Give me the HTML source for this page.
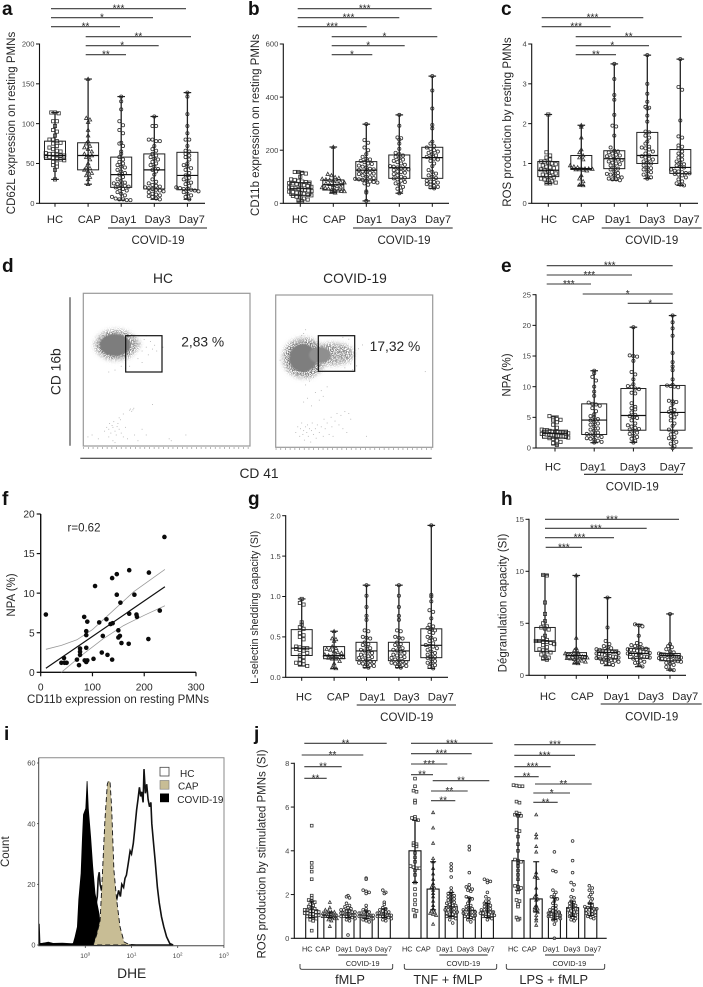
<!DOCTYPE html>
<html lang="en">
<head>
<meta charset="utf-8">
<title>PMN activation figure</title>
<style>
html,body{margin:0;padding:0;background:#fff;}
svg{display:block;filter:blur(0.35px);}
text{font-family:"Liberation Sans",Arial,sans-serif;fill:#262626;}
.letter{font-size:19px;font-weight:bold;fill:#111;}
.title{font-size:11.5px;text-anchor:middle;}
.covid{font-size:11.5px;text-anchor:middle;}
.big{font-size:13.8px;text-anchor:middle;}
.small{font-size:7.3px;text-anchor:middle;}
.leg{font-size:10px;}
.rule{stroke:#222;stroke-width:1.1;}
</style>
</head>
<body>
<svg id="figure" xmlns="http://www.w3.org/2000/svg" width="703" height="987" viewBox="0 0 703 987">
<defs>
<filter id="stipple" x="-40%" y="-40%" width="180%" height="180%">
<feGaussianBlur in="SourceGraphic" stdDeviation="2.4" result="b"/>
<feTurbulence type="fractalNoise" baseFrequency="0.95" numOctaves="1" seed="4" result="n"/>
<feColorMatrix in="n" type="matrix" values="0 0 0 0 0  0 0 0 0 0  0 0 0 0 0  7 0 0 0 -2.9" result="m"/>
<feComposite in="b" in2="m" operator="in"/>
</filter>
<filter id="softer" x="-40%" y="-40%" width="180%" height="180%"><feGaussianBlur stdDeviation="0.9"/></filter>
</defs>
<rect width="703" height="987" fill="#fff"/>

<g id="panel-a">
<text class="letter" x="2" y="15">a</text>
<text class="title" transform="translate(15 123) rotate(-90)">CD62L expression on resting PMNs</text>
<line class="rule" x1="108" x2="207" y1="228" y2="228"/>
<text class="covid" x="158" y="244">COVID-19</text>
</g>

<g id="panel-b">
<text class="letter" x="248" y="15">b</text>
<text class="title" transform="translate(259 125) rotate(-90)">CD11b expression on resting PMNs</text>
<line class="rule" x1="353" x2="452.7" y1="228" y2="228"/>
<text class="covid" x="404" y="244">COVID-19</text>
</g>

<g id="panel-c">
<text class="letter" x="501" y="15">c</text>
<text class="title" transform="translate(511 122) rotate(-90)">ROS production by resting PMNs</text>
<line class="rule" x1="601.7" x2="701.7" y1="228" y2="228"/>
<text class="covid" x="651.7" y="244">COVID-19</text>
</g>

<g id="panel-d">
<text class="letter" x="2" y="272">d</text>
<text class="big" x="163" y="283">HC</text>
<text class="big" x="355" y="283">COVID-19</text>
<text class="big" transform="translate(60.5 371.7) rotate(-90)">CD 16b</text>
<text class="big" x="259" y="478">CD 41</text>
<line x1="70" x2="70" y1="297.3" y2="445.7" stroke="#777" stroke-width="1.6"/>
<line x1="80.3" x2="431.7" y1="458.3" y2="458.3" stroke="#222" stroke-width="1"/>
<g>
<ellipse cx="116" cy="345" rx="21" ry="15" fill="#777" filter="url(#stipple)"/>
<ellipse cx="131" cy="344" rx="9" ry="6" fill="#999" filter="url(#stipple)"/>
<ellipse cx="115" cy="345" rx="15.5" ry="11" fill="#7d7d7d" filter="url(#softer)"/>
<g id="flow-dots-1"></g>
<rect x="83.3" y="293.3" width="166.7" height="152.7" fill="none" stroke="#999" stroke-width="1.2"/>
<rect x="125.7" y="335.7" width="36.3" height="36.3" fill="none" stroke="#111" stroke-width="1.2"/>
<text class="big" x="202.7" y="346.5">2,83 %</text>
<line x1="83.3" x2="250" y1="448" y2="448" stroke="#777" stroke-width="1.4" stroke-dasharray="0.7 4"/>
</g>
<g>
<ellipse cx="304" cy="358" rx="21" ry="20" fill="#777" filter="url(#stipple)"/>
<ellipse cx="333" cy="354" rx="21" ry="11" fill="#888" filter="url(#stipple)"/>
<ellipse cx="303" cy="358" rx="14" ry="14" fill="#7e7e7e" filter="url(#softer)"/>
<ellipse cx="320" cy="355" rx="11" ry="8" fill="#8f8f8f" filter="url(#softer)"/>
<g id="flow-dots-2"></g>
<rect x="275.7" y="295" width="157" height="152.3" fill="none" stroke="#999" stroke-width="1.2"/>
<rect x="318.3" y="335.7" width="36.4" height="35.6" fill="none" stroke="#111" stroke-width="1.2"/>
<text class="big" x="395" y="351">17,32 %</text>
<line x1="275.7" x2="432.7" y1="449" y2="449" stroke="#777" stroke-width="1.4" stroke-dasharray="0.7 4"/>
</g>
</g>

<g id="panel-e">
<text class="letter" x="501" y="272">e</text>
<text class="title" transform="translate(510.5 375) rotate(-90)">NPA (%)</text>
<line class="rule" x1="584" x2="683" y1="474.3" y2="474.3"/>
<text class="covid" x="632.3" y="490.7">COVID-19</text>
</g>

<g id="panel-f">
<text class="letter" x="2" y="505">f</text>
<text class="title" transform="translate(15 595) rotate(-90)">NPA (%)</text>
<text class="title" x="118" y="703">CD11b expression on resting PMNs</text>
<text class="title" x="84" y="531.7">r=0.62</text>
</g>

<g id="panel-g">
<text class="letter" x="248" y="505">g</text>
<text class="title" style="font-size:10.6px" transform="translate(258 607.3) rotate(-90)">L-selectin shedding capacity (SI)</text>
<line class="rule" x1="356.7" x2="456" y1="705" y2="705"/>
<text class="covid" x="406.7" y="721">COVID-19</text>
</g>

<g id="panel-h">
<text class="letter" x="501" y="505">h</text>
<text class="title" transform="translate(506.7 603) rotate(-90)">Dégranulation capacity (SI)</text>
<line class="rule" x1="600.7" x2="701.7" y1="704" y2="704"/>
<text class="covid" x="651.7" y="720.7">COVID-19</text>
</g>

<g id="panel-i">
<text class="letter" x="4" y="740">i</text>
<text class="title" transform="translate(9 851.7) rotate(-90)">Count</text>
<text class="big" x="131.7" y="978">DHE</text>
<rect x="160" y="767.3" width="9" height="8.7" fill="#fff" stroke="#444" stroke-width="0.8"/>
<text class="leg" x="180" y="777">HC</text>
<rect x="160" y="780.5" width="9" height="8.7" fill="#c8bd95" stroke="#777" stroke-width="0.6"/>
<text class="leg" x="178" y="789.6">CAP</text>
<rect x="160" y="793.5" width="9" height="8.7" fill="#000"/>
<text class="leg" x="177.3" y="803">COVID-19</text>
</g>

<g id="panel-j">
<text class="letter" x="254" y="740">j</text>
<text class="title" transform="translate(265.7 854) rotate(-90)">ROS production by stimulated PMNs (SI)</text>
<line class="rule" x1="338.3" x2="387.3" y1="955" y2="955"/>
<line class="rule" x1="439.3" x2="487.7" y1="955" y2="955"/>
<line class="rule" x1="545" x2="594" y1="955" y2="955"/>
<text class="small" x="362.7" y="965.8">COVID-19</text>
<text class="small" x="463.3" y="965.8">COVID-19</text>
<text class="small" x="569.3" y="965.8">COVID-19</text>
<path d="M300 964v3.5q0 1.8 2 1.8H390.7q2 0 2-1.8V964" fill="none" stroke="#333" stroke-width="0.9"/>
<path d="M404.3 964v3.5q0 1.8 2 1.8H494.7q2 0 2-1.8V964" fill="none" stroke="#333" stroke-width="0.9"/>
<path d="M506.3 964v3.5q0 1.8 2 1.8H602.7q2 0 2-1.8V964" fill="none" stroke="#333" stroke-width="0.9"/>
<text class="title" style="font-size:12.8px" x="350" y="984">fMLP</text>
<text class="title" style="font-size:12.8px" x="448" y="984">TNF + fMLP</text>
<text class="title" style="font-size:12.8px" x="553.7" y="984">LPS + fMLP</text>
</g>
</svg>

<script>
/* ---------- category labels ---------- */
const catsFive = ['HC', 'CAP', 'Day1', 'Day3', 'Day7'];
const catsFour = ['HC', 'Day1', 'Day3', 'Day7'];

/* ---------- panel a ---------- */
const aTicks = [0, 50, 100, 150, 200];
const aBoxes = [[30,55,60,78,114],[24,42,60,76,156],[4,20,36,58,134],[5,18,42,62,109],[5,17,35,64,139]];
const aHC = [114,114,113,103,103,97,92,90,85,80,80,78,76,75,72,70,68,66,65,63,62,62,61,60,60,59,58,57,56,55,54,52,50,48,46,42,30];
const aCAP = [156,107,105,102,92,85,78,75,72,70,68,65,62,60,60,58,55,50,45,44,42,40,38,35,33,30,24];
const aDay1 = [134,128,118,103,98,92,88,76,75,72,65,62,58,55,52,50,48,46,45,42,40,38,36,33,30,28,26,25,24,23,22,21,20,19,18,16,14,12,10,8,6,5,5,4,4];
const aDay3 = [109,97,97,80,80,78,78,72,68,66,62,60,58,56,55,52,50,48,46,43,42,40,36,30,27,25,23,22,21,20,19,18,17,16,15,14,12,11,10,9,8,6,5];
const aDay7 = [139,134,112,97,88,80,80,72,66,65,62,60,58,55,50,48,46,44,42,38,35,32,30,28,26,24,22,20,19,18,18,17,16,15,14,12,10,8,5];

/* ---------- panel b ---------- */
const bTicks = [0, 200, 400, 600];
const bBoxes = [[8,30,55,78,118],[40,50,70,88,212],[9,88,125,157,298],[38,94,134,182,333],[56,94,172,211,479]];
const bHC = [118,118,115,112,100,90,88,85,82,80,78,76,75,72,70,68,65,62,60,58,56,54,52,50,48,46,44,42,40,38,36,32,30,28,25,22,18,14,10,8];
const bCAP = [212,110,105,98,95,92,90,88,85,82,80,78,75,72,68,65,62,60,58,55,52,50,48,46,45,42,40];
const bDay1 = [298,238,228,210,200,185,175,168,165,160,155,150,148,142,138,135,130,128,125,120,118,115,112,110,105,100,98,95,92,90,88,85,82,80,78,75,70,45,40,9];
const bDay3 = [333,292,248,245,240,225,205,190,185,180,175,170,165,160,155,150,145,140,138,135,132,130,128,125,120,118,115,110,105,100,96,94,90,85,80,75,70,62,55,48,38];
const bDay7 = [479,425,357,295,282,232,225,215,210,205,200,195,190,185,180,175,172,168,165,160,150,140,125,118,112,105,100,95,85,82,80,78,72,70,65,62,60,56];

/* ---------- panel c ---------- */
const cTicks = [0, 1, 2, 3, 4];
const cBoxes = [[0.5,0.67,0.83,1.05,2.23],[0.45,0.85,0.87,1.2,1.96],[0.58,0.87,1.12,1.32,3.5],[0.62,1.0,1.2,1.78,3.72],[0.45,0.75,0.9,1.35,3.62]];
const cHC = [2.23,1.28,1.2,1.15,1.1,1.05,1.05,1.02,1,0.98,0.95,0.92,0.9,0.88,0.85,0.83,0.8,0.78,0.75,0.72,0.7,0.68,0.65,0.62,0.6,0.58,0.55,0.52,0.5,0.5];
const cCAP = [1.96,1.92,1.65,1.35,1.28,1.2,1.15,1.1,0.95,0.92,0.9,0.88,0.87,0.87,0.86,0.85,0.85,0.84,0.82,0.7,0.62,0.55,0.46,0.45];
const cDay1 = [3.5,3.12,2.72,2.6,2.22,1.95,1.93,1.7,1.4,1.32,1.3,1.28,1.25,1.22,1.2,1.18,1.15,1.12,1.1,1.08,1.05,1.02,1,0.98,0.95,0.9,0.87,0.85,0.8,0.76,0.74,0.72,0.7,0.68,0.65,0.62,0.6,0.6,0.58];
const cDay3 = [3.72,3,2.75,2.55,2.42,2.4,2.38,2.2,2.05,1.8,1.78,1.7,1.65,1.55,1.5,1.42,1.4,1.38,1.35,1.3,1.25,1.2,1.18,1.15,1.12,1.1,1.05,1.02,1,0.95,0.9,0.88,0.85,0.8,0.78,0.72,0.68,0.65,0.62];
const cDay7 = [3.62,2.92,2.85,2.08,1.68,1.65,1.45,1.42,1.38,1.3,1.25,1.2,1.15,1.1,1.05,1.02,0.98,0.95,0.92,0.9,0.85,0.82,0.8,0.78,0.76,0.75,0.74,0.72,0.7,0.65,0.6,0.55,0.5,0.47,0.45];

/* ---------- panel d sparse events (axis decades) ---------- */
const d1X = [0.1,0.2,0.35,0.5,0.55,0.6,0.62,0.65,0.68,0.7,0.72,0.75,0.78,0.8,0.82,0.85,0.88,0.9,0.95,1.0,1.05,1.1,1.12,1.15,1.18,1.2,1.22,1.3,1.4,1.5,1.65,2.05,2.1,2.45,0.85,0.95,0.7,0.75,0.6,0.25,0.3,1.1,1.25,1.35,1.4,1.45,1.5,1.55,1.6,1.65,1.7,1.3,1.4,1.5,1.75,1.9,1.0,0.9,0.75,0.6];
const d1Y = [0.25,0.3,0.2,0.4,0.5,0.45,0.6,0.35,0.55,0.5,0.65,0.4,0.3,0.52,0.6,0.45,0.7,0.35,0.25,0.5,0.2,0.95,0.98,0.92,0.96,1.0,0.3,0.15,0.45,0.3,1.1,0.2,0.15,0.3,0.75,0.85,0.15,0.1,0.25,2.7,2.5,2.1,2.85,2.7,2.5,2.8,2.6,2.4,2.75,2.55,2.65,2.3,2.2,2.9,2.5,2.6,2.05,2.1,2.0,1.95];
const d2X = [0.5,0.55,0.6,0.62,0.65,0.68,0.7,0.72,0.75,0.78,0.8,0.82,0.85,0.88,0.9,0.92,0.95,1.0,1.02,1.05,1.1,1.15,1.2,1.22,1.25,1.3,1.35,1.4,1.42,1.45,1.5,1.55,1.6,1.65,1.7,1.75,1.8,1.85,1.9,2.3,0.7,0.8,0.9,1.0,1.1,1.2,0.75,0.85,0.95,1.15,1.3,0.1,0.2,0.25,0.3,0.35,1.9,2.0,2.1,1.95,2.05,2.2,1.85,1.7,1.75,3.8,0.6,0.65,0.7,0.75,0.5];
const d2Y = [0.4,0.55,0.3,0.5,0.65,0.35,0.45,0.2,0.55,0.4,0.6,0.3,0.5,0.15,0.45,0.65,0.35,0.5,0.25,0.6,0.4,0.55,0.3,0.75,0.5,0.65,0.35,0.8,0.55,0.3,0.7,0.9,0.6,0.85,0.5,0.95,0.4,0.9,0.75,0.3,1.2,1.3,1.1,1.45,1.25,1.35,1.65,1.75,1.85,1.5,1.6,2.3,2.2,2.5,2.0,2.4,2.2,2.4,2.6,2.05,2.15,2.7,2.85,2.9,2.1,2.0,2.85,2.95,3.0,3.1,2.75];

/* ---------- panel e ---------- */
const eTicks = [0, 5, 10, 15, 20, 25];
const eBoxes = [[0.5,1.6,2.4,2.9,5.2],[0.87,2.2,4.56,7.2,12.6],[0.92,2.9,5.3,9.7,19.7],[0,2.9,5.8,10.2,21.6]];
const eHC = [5.2,4.8,4.7,4.6,4.5,4.2,3.8,3.3,3.0,2.9,2.9,2.8,2.7,2.6,2.6,2.5,2.5,2.4,2.4,2.3,2.3,2.2,2.2,2.1,2.1,2.0,2.0,1.9,1.9,1.8,1.7,1.6,1.5,1.2,1.0,0.8,0.5];
const eDay1 = [12.6,12.2,11.6,11,10,9.2,8.5,7.4,7.2,7.1,6.9,6.5,6,5.5,5.2,5,4.7,4.5,4.2,4,3.8,3.5,3.2,3,2.8,2.5,2.3,2.2,2.1,2,1.8,1.6,1.5,1.4,1.2,1,0.9];
const eDay3 = [19.7,15.1,15,14.9,14.2,12.4,12,11.2,10.4,10.1,10,9.7,9.6,9,8.9,7.3,6.7,6.5,6.3,5.8,5.4,5.2,5,4.9,4.5,4,3.7,3.5,3.3,3.1,3,2.8,2.5,2.3,2,1.8,1.5,1.2,0.9];
const eDay7 = [21.6,20.5,19.5,18.3,15.5,14,13.3,12.7,11.2,10.3,10.2,10.1,10,9.9,7.7,7.6,7.5,7.2,6.5,6.2,5.9,5.8,5.5,5.2,5,4.5,4,3.6,3,2.7,2.5,2.2,1.8,1.6,1.4,1,0.7,0.3,0];

/* ---------- panel f ---------- */
const fXTicks = [0, 100, 200, 300];
const fYTicks = [0, 5, 10, 15, 20];
const fX = [10,239,105,138,147,171,209,147,181,154,230,84,90,113,127,135,139,171,185,186,88,88,120,150,150,153,156,170,208,88,76,76,76,118,129,138,102,70,74,85,88,90,45,40,46,50];
const fY = [7.3,17.1,10.9,11.9,12.4,12.9,12.6,9.8,9.8,8.8,7.8,7.0,6.4,6.3,6.7,6.1,6.2,7.4,7.3,7.0,5.2,4.7,4.6,5.3,4.4,4.6,3.7,3.6,4.2,3.1,3.0,2.6,2.2,2.5,2.2,1.6,1.7,1.6,0.9,1.5,1.3,1.5,1.8,1.2,1.2,1.2];
const fFitX = [10, 240];
const fFitY = [0.5, 10.8];
const fUpperX = [10, 40, 70, 100, 140, 180, 240];
const fUpperY = [2.9, 3.4, 4.1, 5.4, 7.8, 10.2, 13];
const fLowerX = [40, 80, 120, 160, 200, 240];
const fLowerY = [0, 2.2, 4.2, 5.9, 7.2, 8.4];

/* ---------- panel g ---------- */
const gTicks = [0, 0.5, 1, 1.5, 2];
const gTickLabels = ['0.0', '0.5', '1.0', '1.5', '2.0'];
const gBoxes = [[0.14,0.27,0.36,0.59,0.97],[0.11,0.23,0.27,0.38,0.57],[0.12,0.206,0.326,0.433,1.14],[0.12,0.206,0.326,0.433,1.14],[0.11,0.243,0.396,0.6,1.88]];
const gHC = [0.97,0.92,0.9,0.68,0.65,0.62,0.6,0.55,0.52,0.5,0.47,0.38,0.37,0.36,0.36,0.35,0.34,0.33,0.3,0.27,0.25,0.22,0.2,0.18,0.17,0.16,0.14];
const gCAP = [0.57,0.48,0.47,0.45,0.38,0.36,0.35,0.34,0.32,0.31,0.3,0.28,0.27,0.26,0.26,0.25,0.25,0.24,0.23,0.23,0.2,0.17,0.12,0.11];
const gDay1 = [1.14,1.01,0.87,0.76,0.71,0.58,0.57,0.5,0.49,0.48,0.43,0.41,0.4,0.38,0.36,0.34,0.33,0.32,0.3,0.28,0.27,0.26,0.25,0.24,0.22,0.21,0.2,0.19,0.18,0.17,0.16,0.15,0.14,0.13,0.12];
const gDay3 = [1.14,1.01,0.87,0.76,0.71,0.58,0.57,0.5,0.49,0.48,0.43,0.41,0.4,0.38,0.36,0.34,0.33,0.32,0.3,0.28,0.27,0.26,0.25,0.24,0.22,0.21,0.2,0.19,0.18,0.17,0.16,0.15,0.14,0.13,0.12];
const gDay7 = [1.88,1.02,1.0,0.94,0.83,0.81,0.73,0.65,0.63,0.61,0.6,0.58,0.56,0.55,0.5,0.49,0.47,0.45,0.42,0.4,0.39,0.38,0.36,0.34,0.32,0.3,0.28,0.26,0.25,0.24,0.22,0.2,0.18,0.17,0.15,0.13,0.11];

/* ---------- panel h ---------- */
const hTicks = [0, 5, 10, 15];
const hBoxes = [[1.5,2.3,3.3,4.6,9.65],[1.15,1.57,1.9,2.18,9.6],[0.93,1.57,2.2,2.44,7.47],[0.83,1.63,2.1,2.6,4.9],[0.5,1.4,1.9,2.1,5.9]];
const hHC = [9.65,9.6,7,5.9,5.2,5,4.7,4.6,4.5,4.4,3.8,3.6,3.4,3.3,3.3,3.2,3.2,3.1,3,2.9,2.7,2.5,2.4,2.3,2.2,2,1.8,1.7,1.6,1.5];
const hCAP = [9.6,3.6,2.6,2.4,2.2,2.1,2,2,1.95,1.9,1.9,1.85,1.8,1.75,1.7,1.65,1.6,1.55,1.5,1.4,1.3,1.2,1.15];
const hDay1 = [7.47,4.6,3.3,3,2.8,2.7,2.6,2.5,2.45,2.4,2.35,2.3,2.25,2.2,2.15,2.1,2.05,2,1.95,1.9,1.85,1.8,1.75,1.7,1.65,1.6,1.55,1.5,1.45,1.4,1.3,1.25,1.2,1.1,1];
const hDay3 = [4.9,4.8,4.7,3.8,3.1,3,2.9,2.8,2.7,2.6,2.55,2.5,2.45,2.4,2.35,2.3,2.25,2.2,2.15,2.1,2.05,2,1.95,1.9,1.85,1.8,1.75,1.7,1.6,1.5,1.4,1.3,1.2,1,0.85];
const hDay7 = [5.9,3,2.8,2.7,2.5,2.3,2.2,2.1,2.05,2,2,1.95,1.9,1.9,1.85,1.8,1.8,1.75,1.7,1.65,1.6,1.55,1.5,1.45,1.4,1.35,1.3,1.2,1.1,1,0.8,0.55,0.5];

/* ---------- panel i ---------- */
const iYTicks = [0, 20, 40, 60];
const iDecades = [0, 1, 2, 3];
const iHCLog = [-1,-0.995,-0.9,-0.8,-0.7,-0.5,-0.3,0.1,0.26,0.28,0.3,0.32,0.35,0.68,0.72,0.76,0.79,0.83,0.86,0.89,0.93,0.97,1.0,1.04,1.07,1.11,1.14,1.17,1.2,1.22,1.25,1.27,1.3,1.33,1.36,1.39,1.42,1.44,1.48,1.51,1.56,1.6,1.65,1.7,1.76,1.83,1.9];
const iHCCount = [0,0,0.5,0.8,0.4,0.5,0.3,1,16,22,24,20,18,15,18,16,20,19,22,23,27,31,30,33.5,38,44.5,48,52,49,50.5,47,58,50,53,48,45.6,47,40,33,28,19,14,9.3,6,2.7,0.5,0];
const iCovidLog = [-1,-0.995,-0.98,-0.8,-0.7,-0.5,-0.3,-0.27,-0.22,-0.17,-0.14,-0.09,-0.06,-0.04,0.01,0.04,0.065,0.115,0.16,0.21,0.3,0.35];
const iCovidCount = [0,7,0.5,0.8,0.5,0.5,0.3,0,2.7,6,15,23.6,35.7,43,45,54,45,35.7,25.8,17,10,0];
const iCapLog = [0.17,0.245,0.32,0.375,0.425,0.476,0.5,0.534,0.57,0.62,0.68,0.75,0.84,0.93,1.11];
const iCapCount = [0,3.3,8,24.7,41,53,54,54,45.6,24.7,14.8,6,1,0.3,0];

/* ---------- panel j ---------- */
const jTicks = [0, 2, 4, 6, 8];
const jFmlpMeans = [1.3, 1.05, 1.1, 1.05, 1.1];
const jFmlpLow = [0.95, 0.95, 0.95, 0.9, 0.95];
const jFmlpHigh = [1.7, 1.2, 1.3, 1.25, 1.35];
const jTnfMeans = [4.0, 2.25, 1.45, 1.28, 1.25];
const jTnfLow = [2.55, 1.3, 1.0, 0.9, 0.95];
const jTnfHigh = [5.4, 3.5, 2.1, 1.85, 1.6];
const jLpsMeans = [3.55, 1.8, 1.2, 1.4, 1.38];
const jLpsLow = [2.2, 1.2, 0.85, 1.0, 1.05];
const jLpsHigh = [5.65, 3.5, 1.85, 1.7, 1.6];
const jFmlpHC = [5.15,3.45,3.25,3.05,2.7,1.95,1.85,1.75,1.7,1.65,1.55,1.5,1.45,1.4,1.35,1.3,1.3,1.25,1.25,1.2,1.2,1.15,1.15,1.1,1.1,1.05,1.05,1,1,0.95,0.9,0.85,0.8,0.35];
const jFmlpCAP = [1.65,1.4,1.3,1.25,1.2,1.2,1.15,1.15,1.1,1.1,1.1,1.05,1.05,1.05,1,1,1,0.95,0.95,0.9,0.9,0.85,0.8,0.55];
const jFmlpDay1 = [1.95,1.9,1.85,1.6,1.5,1.45,1.4,1.35,1.3,1.3,1.25,1.25,1.2,1.2,1.15,1.15,1.1,1.1,1.1,1.05,1.05,1.05,1,1,1,0.95,0.95,0.9,0.85,0.8,0.15];
const jFmlpDay3 = [2.75,2.7,2.2,2.15,2.1,2.05,1.5,1.35,1.3,1.25,1.2,1.15,1.15,1.1,1.1,1.1,1.05,1.05,1.05,1,1,1,1,0.95,0.95,0.9,0.9,0.85,0.8,0.75];
const jFmlpDay7 = [2.2,2.1,2.05,1.65,1.55,1.4,1.35,1.3,1.25,1.2,1.2,1.15,1.15,1.1,1.1,1.1,1.05,1.05,1.05,1,1,1,0.95,0.95,0.9,0.85,0.8];
const jTnfHC = [7.3,6.95,6.75,6.7,6.3,6.2,5.55,5.5,5.45,5.4,4.35,4.3,4.25,4.2,3.9,3.7,3.5,3.3,3.25,3.2,3.2,3.1,2.9,2.55,2.25,2.0,1.75,1.55,1.3,1.25,1.05,1.0];
const jTnfCAP = [5.75,5.05,4.35,3.65,3.5,3.2,2.95,2.7,2.5,2.35,2.3,2.2,2.05,1.9,1.7,1.5,1.35,1.25,1.2,1.15,1.1,1.05,0.65];
const jTnfDay1 = [3.4,3.25,3.1,2.8,2.3,2.15,2.05,2,1.95,1.9,1.85,1.8,1.75,1.7,1.65,1.6,1.55,1.5,1.5,1.45,1.4,1.35,1.3,1.3,1.25,1.2,1.2,1.15,1.1,1.1,1.05,1,1,0.95,0.9,0.85,0.7];
const jTnfDay3 = [4.2,4.05,3,2.45,2.35,2.3,2.25,2.2,2.15,1.9,1.85,1.8,1.7,1.6,1.5,1.45,1.4,1.35,1.3,1.3,1.25,1.2,1.2,1.15,1.1,1.1,1.05,1.05,1,1,0.95,0.9,0.85,0.75];
const jTnfDay7 = [2.7,2.65,2.6,2.55,2.1,1.9,1.8,1.7,1.65,1.6,1.55,1.5,1.45,1.4,1.35,1.3,1.3,1.25,1.2,1.2,1.15,1.15,1.1,1.1,1.05,1.05,1,1,0.95,0.9,0.85];
const jLpsHC = [7,6.98,6.95,6.95,6.25,6.2,5.75,5.7,5.65,5.6,5.6,4.95,4.9,4.65,4.3,4,3.6,3.55,3.5,3.45,3.3,3.1,2.9,2.7,2.4,2.35,2.3,2.1,1.75,1.7,1.55,1.45,0.95,0.9,0.85];
const jLpsCAP = [5.65,4.75,4.6,4.2,3.95,3,2.8,2.75,2.3,2,1.9,1.8,1.75,1.5,1.4,1.35,1.3,1.2,1.05,0.9,0.8,0.6];
const jLpsDay1 = [3.95,3.1,3.05,2.2,2.1,2,1.9,1.85,1.8,1.7,1.6,1.5,1.4,1.35,1.3,1.25,1.2,1.2,1.15,1.1,1.1,1.05,1.05,1,1,0.95,0.95,0.9,0.85,0.8,0.65,0];
const jLpsDay3 = [4.45,3.55,3,2.55,2.45,2.2,1.9,1.85,1.7,1.65,1.6,1.55,1.5,1.45,1.4,1.35,1.3,1.25,1.2,1.2,1.15,1.1,1.05,1,0.95,0.9,0.85,0.8];
const jLpsDay7 = [2.4,2.3,2.2,2.1,2,1.9,1.8,1.7,1.6,1.5,1.45,1.4,1.4,1.35,1.35,1.3,1.3,1.25,1.2,1.15,1.1,1.1,1.05,1,0.95,0.9];

/* ---------- drawing helpers ---------- */
const NS = 'http://www.w3.org/2000/svg';
function add(parent, tag, attrs, name, txt) {
  const el = document.createElementNS(NS, tag);
  Object.keys(attrs).forEach(k => el.setAttribute(k, attrs[k]));
  
  
  if (txt !== undefined) el.textContent = txt;
  parent.appendChild(el);
  return el;
}
function byId(id) { return document.getElementById(id); }
function polyline(xs, ys, sx, sy) {
  return xs.map((x, i) => (i ? 'L' : 'M') + sx(x).toFixed(1) + ' ' + sy(ys[i]).toFixed(1)).join('');
}
function marker(g, shape, x, y, r, name) {
  const base = { fill: '#fff', 'fill-opacity': 0.45, stroke: '#333', 'stroke-width': 0.8 };
  if (shape === 'square') {
    add(g, 'rect', Object.assign({ x: x - r, y: y - r, width: 2 * r, height: 2 * r }, base), name);
  } else if (shape === 'triangle') {
    add(g, 'path', Object.assign({ d: `M${x} ${y - r * 1.15}L${x + r * 1.1} ${y + r * 0.85}L${x - r * 1.1} ${y + r * 0.85}Z` }, base), name);
  } else {
    add(g, 'circle', Object.assign({ cx: x, cy: y, r: r }, base), name);
  }
}
function swarm(g, values, cx, sy, shape, r, rowPx, stepPx, maxW, name) {
  const rows = {};
  values.forEach(v => {
    const key = Math.round(sy(v) / rowPx);
    (rows[key] = rows[key] || []).push(v);
  });
  Object.keys(rows).forEach(key => {
    const list = rows[key];
    const step = Math.min(stepPx, list.length > 1 ? maxW / (list.length - 1) : stepPx);
    list.forEach((v, k) => {
      marker(g, shape, cx + (k - (list.length - 1) / 2) * step, sy(v), r, name);
    });
  });
}
function bracket(panel, x1, x2, y, stars) {
  const g = byId(panel);
  add(g, 'line', { x1: x1, x2: x2, y1: y, y2: y, stroke: '#3a3a3a', 'stroke-width': 1.1 }, 'significance-bar');
  add(g, 'text', { x: (x1 + x2) / 2, y: y + 3, 'text-anchor': 'middle', 'font-size': 10 }, 'significance-stars', stars);
}
function yAxis(g, x, y0, yTop, sy, ticks, labels) {
  add(g, 'line', { x1: x, x2: x, y1: y0 + 0.5, y2: yTop - 0.5, stroke: '#111', 'stroke-width': 1.1 }, 'y-axis-line');
  ticks.forEach((t, i) => {
    add(g, 'line', { x1: x - 3.5, x2: x, y1: sy(t), y2: sy(t), stroke: '#111', 'stroke-width': 1 }, 'y-tick');
    add(g, 'text', { x: x - 5, y: sy(t) + 2.7, 'text-anchor': 'end', 'font-size': 7.6, style: 'fill:#444' }, 'y-tick-label', labels ? labels[i] : t);
  });
}
function drawBoxPanel(c) {
  const g = byId(c.id);
  const sy = v => c.y0 - v / c.max * (c.y0 - c.yTop);
  const sx = i => c.x0 + c.step * i;
  yAxis(g, c.axisX, c.y0, c.yTop, sy, c.ticks, c.tickLabels);
  add(g, 'line', { x1: c.axisX, x2: c.xEnd, y1: c.y0, y2: c.y0, stroke: '#111', 'stroke-width': 1.1 }, 'x-axis-line');
  c.cats.forEach((cat, i) => {
    const x = sx(i);
    add(g, 'line', { x1: x, x2: x, y1: c.y0, y2: c.y0 + 3.5, stroke: '#111', 'stroke-width': 1 }, 'x-tick');
    add(g, 'text', { x: c.labelX0 + c.labelStep * i, y: c.labelY, 'text-anchor': 'middle', 'font-size': 11.2 }, 'x-tick-label', cat);
    const shape = cat === 'HC' ? 'square' : cat === 'CAP' ? 'triangle' : 'circle';
    swarm(g, c.values[i], x, sy, shape, 1.6, 4.4, 3.7, c.boxW + 1.5, 'data-point-' + cat.toLowerCase());
    const b = c.boxes[i];
    add(g, 'line', { x1: x, x2: x, y1: sy(b[0]), y2: sy(b[4]), stroke: '#222', 'stroke-width': 1.3 }, 'whisker-' + cat.toLowerCase());
    add(g, 'line', { x1: x - 3.8, x2: x + 3.8, y1: sy(b[0]), y2: sy(b[0]), stroke: '#222', 'stroke-width': 1.2 }, 'whisker-cap-low');
    add(g, 'line', { x1: x - 3.8, x2: x + 3.8, y1: sy(b[4]), y2: sy(b[4]), stroke: '#222', 'stroke-width': 1.2 }, 'whisker-cap-high');
    add(g, 'rect', { x: x - c.boxW / 2, y: sy(b[3]), width: c.boxW, height: sy(b[1]) - sy(b[3]), fill: 'none', stroke: '#222', 'stroke-width': 1 }, 'box-' + cat.toLowerCase());
    add(g, 'line', { x1: x - c.boxW / 2, x2: x + c.boxW / 2, y1: sy(b[2]), y2: sy(b[2]), stroke: '#111', 'stroke-width': 1.2 }, 'median-' + cat.toLowerCase());
  });
}

/* ---------- box panels ---------- */
drawBoxPanel({ id: 'panel-a', axisX: 39.5, xEnd: 205, x0: 55, step: 33.1, y0: 203.3, yTop: 44, max: 200, ticks: aTicks, cats: catsFive, labelX0: 55, labelStep: 34.2, labelY: 223, boxW: 21, boxes: aBoxes, values: [aHC, aCAP, aDay1, aDay3, aDay7] });
drawBoxPanel({ id: 'panel-b', axisX: 283.3, xEnd: 449, x0: 300.3, step: 33, y0: 203.3, yTop: 44, max: 600, ticks: bTicks, cats: catsFive, labelX0: 300, labelStep: 34.5, labelY: 223, boxW: 21, boxes: bBoxes, values: [bHC, bCAP, bDay1, bDay3, bDay7] });
drawBoxPanel({ id: 'panel-c', axisX: 531.7, xEnd: 698, x0: 548.3, step: 33, y0: 203.3, yTop: 44, max: 4, ticks: cTicks, cats: catsFive, labelX0: 549, labelStep: 34.4, labelY: 223, boxW: 21, boxes: cBoxes, values: [cHC, cCAP, cDay1, cDay3, cDay7] });
drawBoxPanel({ id: 'panel-e', axisX: 536, xEnd: 692.7, x0: 555, step: 39.2, y0: 448, yTop: 294.7, max: 25, ticks: eTicks, cats: catsFour, labelX0: 553, labelStep: 39.9, labelY: 470.7, boxW: 25, boxes: eBoxes, values: [eHC, eDay1, eDay3, eDay7] });
drawBoxPanel({ id: 'panel-g', axisX: 285.7, xEnd: 448, x0: 301.7, step: 32.4, y0: 677.3, yTop: 515.7, max: 2, ticks: gTicks, tickLabels: gTickLabels, cats: catsFive, labelX0: 304, labelStep: 34.2, labelY: 700.7, boxW: 21, boxes: gBoxes, values: [gHC, gCAP, gDay1, gDay3, gDay7] });
drawBoxPanel({ id: 'panel-h', axisX: 529, xEnd: 686, x0: 545, step: 31.25, y0: 675.3, yTop: 519.3, max: 15, ticks: hTicks, cats: catsFive, labelX0: 548, labelStep: 34.3, labelY: 700, boxW: 20.5, boxes: hBoxes, values: [hHC, hCAP, hDay1, hDay3, hDay7] });

/* ---------- significance bars ---------- */
bracket('panel-a', 51, 186, 8.7, '***');
bracket('panel-a', 51, 153, 17.7, '*');
bracket('panel-a', 51, 120, 26.7, '**');
bracket('panel-a', 85.7, 191, 36.7, '**');
bracket('panel-a', 85.7, 158.7, 45.7, '*');
bracket('panel-a', 85.7, 126, 54.7, '**');
bracket('panel-b', 297.7, 431.7, 8.7, '***');
bracket('panel-b', 297.7, 399.3, 17.7, '***');
bracket('panel-b', 297.7, 366.7, 26.7, '***');
bracket('panel-b', 331.7, 437.3, 36.7, '*');
bracket('panel-b', 331.7, 404.7, 45.7, '*');
bracket('panel-b', 331.7, 372.3, 54.7, '*');
bracket('panel-c', 541.7, 643.3, 17.7, '***');
bracket('panel-c', 541.7, 610.7, 26.7, '***');
bracket('panel-c', 575.7, 681.7, 36.7, '**');
bracket('panel-c', 575.7, 649, 45.7, '*');
bracket('panel-c', 575.7, 616, 54.7, '**');
bracket('panel-e', 546.7, 672.7, 265.7, '***');
bracket('panel-e', 546.7, 632, 275, '***');
bracket('panel-e', 546.7, 591, 284, '***');
bracket('panel-e', 582.7, 672.7, 294, '*');
bracket('panel-e', 627.7, 672.7, 303.3, '*');
bracket('panel-h', 545, 679, 519.3, '***');
bracket('panel-h', 545, 646.7, 528.3, '***');
bracket('panel-h', 545, 614, 537.7, '***');
bracket('panel-h', 545.7, 582, 547.3, '***');
bracket('panel-j', 304.3, 386.7, 743.3, '**');
bracket('panel-j', 301.7, 363.3, 755, '**');
bracket('panel-j', 304.3, 341.7, 766.7, '**');
bracket('panel-j', 304.3, 326.7, 778.3, '**');
bracket('panel-j', 411, 492.7, 743.3, '***');
bracket('panel-j', 411, 471.7, 753.7, '***');
bracket('panel-j', 411, 447.3, 764, '***');
bracket('panel-j', 411, 433, 774.7, '**');
bracket('panel-j', 432.7, 489.3, 780.7, '**');
bracket('panel-j', 431, 467.7, 791, '**');
bracket('panel-j', 431, 455.3, 800.7, '**');
bracket('panel-j', 514.3, 595.7, 744.7, '***');
bracket('panel-j', 514.3, 575, 755.3, '***');
bracket('panel-j', 514.3, 550.7, 766.7, '***');
bracket('panel-j', 514.3, 538.7, 776.7, '**');
bracket('panel-j', 535, 591.7, 784, '**');
bracket('panel-j', 533.3, 570, 793, '*');
bracket('panel-j', 533.3, 557.7, 802.3, '**');

/* ---------- panel d events ---------- */
function flowDots(id, xs, ys, left, right, top, bottom) {
  const g = byId(id);
  const sx = v => left + v / 4 * (right - left);
  const sy = v => bottom - v / 4 * (bottom - top);
  xs.forEach((x, i) => {
    add(g, 'rect', { x: sx(x), y: sy(ys[i]), width: 0.9, height: 0.9, fill: '#b4b4b4' }, 'flow-event');
  });
}
flowDots('flow-dots-1', d1X, d1Y, 83.3, 250, 293.3, 446);
flowDots('flow-dots-2', d2X, d2Y, 275.7, 432.7, 295, 447.3);

/* ---------- panel f ---------- */
(function () {
  const g = byId('panel-f');
  const sx = v => 40.7 + v / 300 * 155.3;
  const sy = v => 672.3 - v / 20 * 158.3;
  add(g, 'line', { x1: sx(0), x2: sx(0), y1: sy(0) + 0.7, y2: sy(20), stroke: '#111', 'stroke-width': 1.4 }, 'y-axis-line');
  add(g, 'line', { x1: sx(0), x2: sx(300), y1: sy(0), y2: sy(0), stroke: '#111', 'stroke-width': 1.4 }, 'x-axis-line');
  fYTicks.forEach(t => {
    add(g, 'line', { x1: sx(0) - 4, x2: sx(0), y1: sy(t), y2: sy(t), stroke: '#111', 'stroke-width': 1.2 }, 'y-tick');
    add(g, 'text', { x: sx(0) - 6, y: sy(t) + 3.6, 'text-anchor': 'end', 'font-size': 10.2 }, 'y-tick-label', t);
  });
  fXTicks.forEach(t => {
    add(g, 'line', { x1: sx(t), x2: sx(t), y1: sy(0), y2: sy(0) + 4, stroke: '#111', 'stroke-width': 1.2 }, 'x-tick');
    add(g, 'text', { x: sx(t), y: 690.3, 'text-anchor': 'middle', 'font-size': 10.2 }, 'x-tick-label', t);
  });
  add(g, 'path', { d: polyline(fUpperX, fUpperY, sx, sy), fill: 'none', stroke: '#999', 'stroke-width': 0.8 }, 'confidence-band-upper');
  add(g, 'path', { d: polyline(fLowerX, fLowerY, sx, sy), fill: 'none', stroke: '#999', 'stroke-width': 0.8 }, 'confidence-band-lower');
  add(g, 'path', { d: polyline(fFitX, fFitY, sx, sy), fill: 'none', stroke: '#111', 'stroke-width': 1.2 }, 'regression-line');
  fX.forEach((x, i) => {
    add(g, 'circle', { cx: sx(x), cy: sy(fY[i]), r: 2.3, fill: '#0a0a0a' }, 'scatter-point');
  });
})();

/* ---------- panel i ---------- */
(function () {
  const g = byId('panel-i');
  const sx = v => 85.3 + 46.2 * v;
  const sy = v => 945 - v / 60 * 182;
  const area = (xs, ys) => polyline(xs, ys, sx, sy) + 'L' + sx(xs[xs.length - 1]) + ' ' + sy(0) + 'L' + sx(xs[0]) + ' ' + sy(0) + 'Z';
  add(g, 'path', { d: area(iHCLog, iHCCount), fill: '#fff', stroke: '#111', 'stroke-width': 1.6 }, 'histogram-hc');
  add(g, 'path', { d: area(iCovidLog, iCovidCount), fill: '#000', stroke: '#000', 'stroke-width': 0.8 }, 'histogram-covid');
  add(g, 'path', { d: area(iCapLog, iCapCount), fill: '#c8bd95', stroke: '#111', 'stroke-width': 0.9, 'stroke-dasharray': '5 3' }, 'histogram-cap');
  add(g, 'path', { d: 'M38.7 757.7H224V945.7', fill: 'none', stroke: '#8a8a8a', 'stroke-width': 1 }, 'histogram-frame-top-right');
  add(g, 'path', { d: 'M38.7 757.7V945.7H224', fill: 'none', stroke: '#444', 'stroke-width': 1 }, 'histogram-frame-left-bottom');
  iYTicks.forEach(t => {
    add(g, 'line', { x1: 37, x2: 38.7, y1: sy(t), y2: sy(t), stroke: '#444', 'stroke-width': 0.8 }, 'y-tick');
    add(g, 'text', { x: 35.5, y: sy(t) + 2.6, 'text-anchor': 'end', 'font-size': 7.4, style: 'fill:#444' }, 'y-tick-label', t);
  });
  iDecades.forEach(d => {
    add(g, 'line', { x1: sx(d), x2: sx(d), y1: 945.7, y2: 948, stroke: '#444', 'stroke-width': 0.8 }, 'x-tick');
    const t = add(g, 'text', { x: sx(d) - 5, y: 958, 'font-size': 6.6, style: 'fill:#444' }, 'x-tick-label', '10');
    add(t, 'tspan', { dy: -2.5, 'font-size': 4.6 }, 'x-tick-exponent', d);
  });
})();

/* ---------- panel j ---------- */
function drawBars(g, sy, x0, step, means, low, high, valueSets) {
  catsFive.forEach((cat, i) => {
    const x = x0 + step * i;
    const key = cat.toLowerCase();
    add(g, 'rect', { x: x - 6, y: sy(means[i]), width: 12, height: sy(0) - sy(means[i]), fill: '#fff', stroke: '#111', 'stroke-width': 1.1 }, 'bar-' + key);
    const shape = cat === 'HC' ? 'square' : cat === 'CAP' ? 'triangle' : 'circle';
    swarm(g, valueSets[i], x, sy, shape, 1.35, 3.4, 3, 14, 'data-point-' + key);
    add(g, 'line', { x1: x, x2: x, y1: sy(low[i]), y2: sy(high[i]), stroke: '#111', 'stroke-width': 1.3 }, 'error-bar-' + key);
    add(g, 'line', { x1: x - 3, x2: x + 3, y1: sy(low[i]), y2: sy(low[i]), stroke: '#111', 'stroke-width': 1.1 }, 'error-cap-low');
    add(g, 'line', { x1: x - 3, x2: x + 3, y1: sy(high[i]), y2: sy(high[i]), stroke: '#111', 'stroke-width': 1.1 }, 'error-cap-high');
  });
}
function jLabels(g, base, capGap, dayStart, dayGap) {
  catsFive.forEach((cat, i) => {
    const x = i < 2 ? base + capGap * i : base + dayStart + dayGap * (i - 2);
    add(g, 'text', { x: x, y: 951.6, 'text-anchor': 'middle', 'font-size': 7.3 }, 'x-tick-label', cat);
  });
}
(function () {
  const g = byId('panel-j');
  const sy = v => 938.3 - v / 8 * 175;
  yAxis(g, 294.3, 938.3, 763.3, sy, jTicks);
  add(g, 'line', { x1: 294.3, x2: 606.7, y1: 938.3, y2: 938.3, stroke: '#111', 'stroke-width': 1.1 }, 'x-axis-line');
  drawBars(g, sy, 311.7, 18.15, jFmlpMeans, jFmlpLow, jFmlpHigh, [jFmlpHC, jFmlpCAP, jFmlpDay1, jFmlpDay3, jFmlpDay7]);
  drawBars(g, sy, 415, 18.1, jTnfMeans, jTnfLow, jTnfHigh, [jTnfHC, jTnfCAP, jTnfDay1, jTnfDay3, jTnfDay7]);
  drawBars(g, sy, 518, 18.2, jLpsMeans, jLpsLow, jLpsHigh, [jLpsHC, jLpsCAP, jLpsDay1, jLpsDay3, jLpsDay7]);
  jLabels(g, 307.3, 15.4, 36.7, 19.7);
  jLabels(g, 407.3, 16, 37.4, 20.7);
  jLabels(g, 513.3, 16, 37.7, 20.9);
})();
</script>
</body>
</html>
